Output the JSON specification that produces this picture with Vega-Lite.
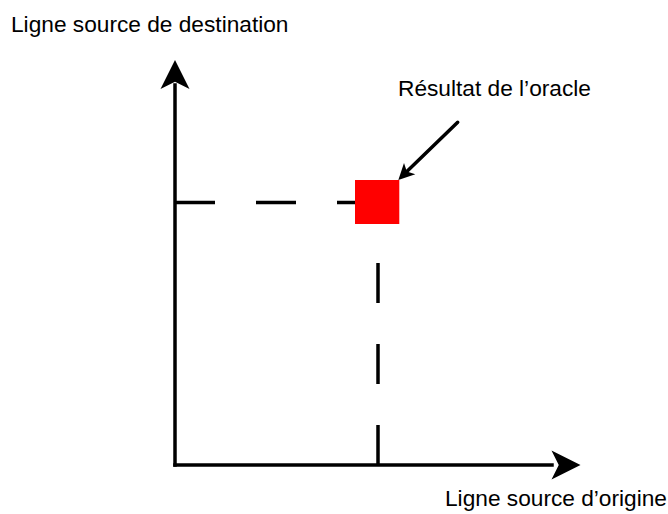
{
  "$schema": "https://vega.github.io/schema/vega-lite/v6.json",
  "width": 668,
  "height": 514,
  "padding": 0,
  "autosize": {"type": "none"},
  "background": "white",
  "config": {"view": {"stroke": null}},
  "datasets": {
    "axes": [
      {"name": "ordonnee", "x": 0, "y": 0, "x2": 0, "y2": 380},
      {"name": "abscisse", "x": 0, "y": 0, "x2": 377, "y2": 0}
    ],
    "pointer": [
      {"name": "fleche", "x": 282.7, "y": 342.7, "x2": 229, "y2": 290.7}
    ],
    "dashes": [
      {"name": "h", "x": 0, "y": 262.5, "x2": 180, "y2": 262.5},
      {"name": "v", "x": 203, "y": 0, "x2": 203, "y2": 203}
    ],
    "oracle": [
      {"x": 180, "x2": 224.3, "y": 241, "y2": 285}
    ],
    "headUp": [{"x": 0, "y": 390.5}],
    "headRight": [{"x": 391, "y": 0}],
    "headDiag": [{"x": 229, "y": 290.7}],
    "labels": [
      {"text": "Ligne source de destination", "x": -164, "y": 433},
      {"text": "Résultat de l’oracle", "x": 223, "y": 369.3},
      {"text": "Ligne source d’origine", "x": 270, "y": -41}
    ]
  },
  "resolve": {"scale": {"x": "shared", "y": "shared"}},
  "layer": [
    {
      "data": {"name": "axes"},
      "mark": {"type": "rule", "color": "black", "strokeWidth": 3.5, "strokeCap": "square"},
      "encoding": {
        "x": {"field": "x", "type": "quantitative", "scale": {"domain": [-175, 493], "nice": false, "zero": false}, "axis": null},
        "y": {"field": "y", "type": "quantitative", "scale": {"domain": [-49, 465], "nice": false, "zero": false}, "axis": null},
        "x2": {"field": "x2"},
        "y2": {"field": "y2"}
      }
    },
    {
      "data": {"name": "pointer"},
      "mark": {"type": "rule", "color": "black", "strokeWidth": 3.5, "strokeCap": "round"},
      "encoding": {
        "x": {"field": "x", "type": "quantitative"},
        "y": {"field": "y", "type": "quantitative"},
        "x2": {"field": "x2"},
        "y2": {"field": "y2"}
      }
    },
    {
      "data": {"name": "dashes"},
      "mark": {"type": "rule", "color": "black", "strokeWidth": 3.5, "strokeDash": [40, 41]},
      "encoding": {
        "x": {"field": "x", "type": "quantitative"},
        "y": {"field": "y", "type": "quantitative"},
        "x2": {"field": "x2"},
        "y2": {"field": "y2"}
      }
    },
    {
      "data": {"name": "oracle"},
      "mark": {"type": "rect", "color": "#ff0000"},
      "encoding": {
        "x": {"field": "x", "type": "quantitative"},
        "x2": {"field": "x2"},
        "y": {"field": "y", "type": "quantitative"},
        "y2": {"field": "y2"}
      }
    },
    {
      "data": {"name": "headUp"},
      "mark": {"type": "point", "shape": "M0,-1L1,1L0,0.5L-1,1Z", "filled": true, "color": "black", "opacity": 1, "size": 841, "angle": 0},
      "encoding": {
        "x": {"field": "x", "type": "quantitative"},
        "y": {"field": "y", "type": "quantitative"}
      }
    },
    {
      "data": {"name": "headRight"},
      "mark": {"type": "point", "shape": "M0,-1L1,1L0,0.5L-1,1Z", "filled": true, "color": "black", "opacity": 1, "size": 841, "angle": 90},
      "encoding": {
        "x": {"field": "x", "type": "quantitative"},
        "y": {"field": "y", "type": "quantitative"}
      }
    },
    {
      "data": {"name": "headDiag"},
      "mark": {"type": "point", "shape": "M0,-1L1,1L0,0.5L-1,1Z", "filled": true, "color": "black", "opacity": 1, "size": 256, "angle": 225},
      "encoding": {
        "x": {"field": "x", "type": "quantitative"},
        "y": {"field": "y", "type": "quantitative"}
      }
    },
    {
      "data": {"name": "labels"},
      "mark": {"type": "text", "font": "Liberation Sans", "fontSize": 22.7, "color": "black", "align": "left", "baseline": "alphabetic"},
      "encoding": {
        "x": {"field": "x", "type": "quantitative"},
        "y": {"field": "y", "type": "quantitative"},
        "text": {"field": "text"}
      }
    }
  ]
}
